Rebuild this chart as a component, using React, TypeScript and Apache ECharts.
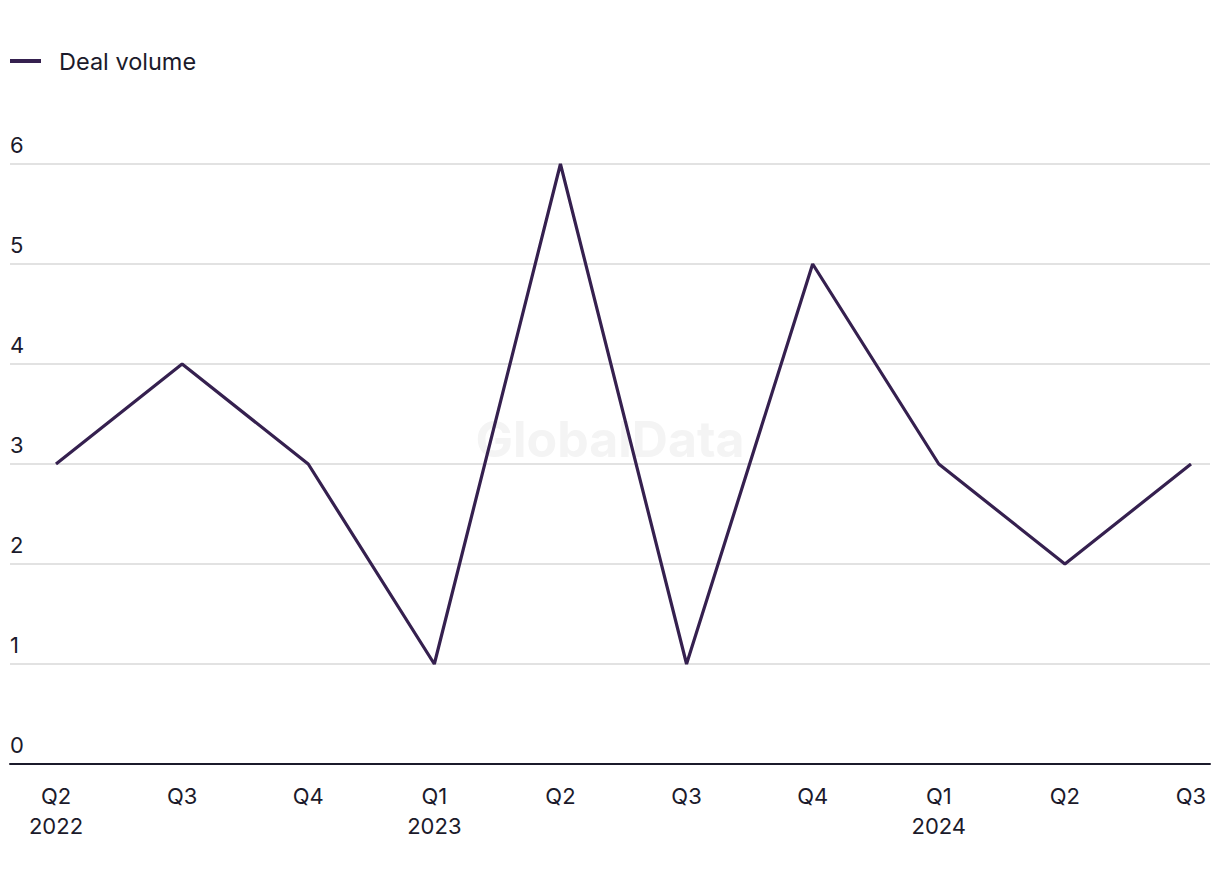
import React, { useEffect, useRef } from "react";
import * as echarts from "echarts";

const quarters = ["Q2", "Q3", "Q4", "Q1", "Q2", "Q3", "Q4", "Q1", "Q2", "Q3"];
const years = ["2022", "", "", "2023", "", "", "", "2024", "", ""];
const dealVolume = [3, 4, 3, 1, 6, 1, 5, 3, 2, 3];
const seriesName = "Deal volume";

const TEXT = "#1b1a2b";
const LINE = "#35204f";
const FONT = "Inter, 'Liberation Sans', Arial, sans-serif";

export default function App() {
  const ref = useRef<HTMLDivElement>(null);
  useEffect(() => {
    if (!ref.current) return;
    const chart = echarts.init(ref.current, undefined, { renderer: "svg" });
    const categories = quarters.map((q, i) => (years[i] ? q + "\n" + years[i] : q));
    chart.setOption({
      animation: false,
      backgroundColor: "#ffffff",
      textStyle: { fontFamily: FONT },
      graphic: [
        {
          type: "text",
          left: "center",
          top: 414,
          z: 0,
          style: {
            text: "GlobalData",
            fontSize: 50,
            fontWeight: "bold",
            fontFamily: FONT,
            fill: "#f4f4f4",
          },
        },
      ],
      legend: {
        left: 10,
        top: 49,
        padding: 0,
        icon: "rect",
        itemWidth: 31,
        itemHeight: 4,
        textStyle: { color: TEXT, fontSize: 23.5, fontFamily: FONT, padding: [0, 0, 0, 13] },
        data: [seriesName],
      },
      grid: [
        { left: 10, right: 10, top: 164, bottom: 120 },
        { left: 56, right: 29, top: 164, bottom: 120 },
      ],
      xAxis: [
        {
          type: "value",
          gridIndex: 0,
          min: 0,
          max: 1,
          axisLine: { show: true, onZero: false, lineStyle: { color: TEXT, width: 2 } },
          axisTick: { show: false },
          axisLabel: { show: false },
          splitLine: { show: false },
        },
        {
          type: "category",
          gridIndex: 1,
          boundaryGap: false,
          data: categories,
          axisLine: { show: false },
          axisTick: { show: false },
          splitLine: { show: false },
          axisLabel: {
            color: TEXT,
            fontSize: 22,
            lineHeight: 30,
            margin: 17,
            fontFamily: FONT,
            interval: 0,
          },
        },
      ],
      yAxis: [
        {
          type: "value",
          gridIndex: 0,
          min: 0,
          max: 6,
          interval: 1,
          axisLine: { show: false },
          axisTick: { show: false },
          splitLine: { show: true, lineStyle: { color: "#d9d9d9", width: 1.5 } },
          axisLabel: {
            inside: true,
            margin: 0,
            color: TEXT,
            fontSize: 22,
            fontFamily: FONT,
            verticalAlign: "bottom",
            padding: [0, 0, 8, 0],
          },
        },
        {
          type: "value",
          gridIndex: 1,
          min: 0,
          max: 6,
          interval: 1,
          show: false,
        },
      ],
      series: [
        {
          name: seriesName,
          type: "line",
          xAxisIndex: 1,
          yAxisIndex: 1,
          data: dealVolume,
          symbol: "none",
          color: LINE,
          lineStyle: { color: LINE, width: 3.2 },
          z: 5,
        },
      ],
    });
    return () => chart.dispose();
  }, []);
  return (
    <div
      ref={ref}
      style={{ position: "fixed", left: 0, top: 0, width: 1220, height: 884 }}
    />
  );
}
